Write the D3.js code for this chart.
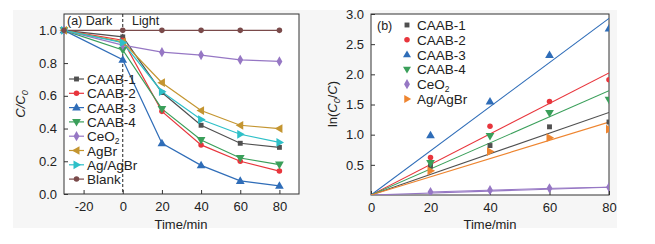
<!DOCTYPE html>
<html>
<head>
<meta charset="utf-8">
<script src="https://cdn.jsdelivr.net/npm/d3@7"></script>
<style>
  body { margin: 0; background: #fff; }
  text { font-family: "Liberation Sans", Arial, sans-serif; fill: #222; }
</style>
</head>
<body>
<div id="chart"></div>
<script>
// data: panel (a) C/C0 vs time
var timesA = [-30, 0, 20, 40, 60, 80];
var namesA = ["CAAB-1", "CAAB-2", "CAAB-3", "CAAB-4", "CeO2", "AgBr", "Ag/AgBr", "Blank"];
var caab1 = [1.0, 0.96, 0.62, 0.42, 0.31, 0.285];
var caab2 = [1.0, 0.94, 0.505, 0.30, 0.20, 0.14];
var caab3 = [1.0, 0.82, 0.31, 0.175, 0.08, 0.05];
var caab4 = [1.0, 0.88, 0.52, 0.33, 0.22, 0.18];
var ceo2 = [1.0, 0.91, 0.867, 0.849, 0.82, 0.81];
var agbr = [1.0, 0.93, 0.68, 0.51, 0.42, 0.40];
var agagbr = [1.0, 0.925, 0.625, 0.455, 0.365, 0.315];
var blank = [1.0, 1.0, 1.0, 1.0, 1.0, 1.0];
var seriesA = [caab1, caab2, caab3, caab4, ceo2, agbr, agagbr, blank];

// data: panel (b) ln(C0/C) vs time
var timesB = [20, 40, 60, 80];
var namesB = ["CAAB-1", "CAAB-2", "CAAB-3", "CAAB-4", "CeO2", "Ag/AgBr"];
var lnCaab1 = [0.48, 0.82, 1.13, 1.21];
var lnCaab2 = [0.62, 1.14, 1.55, 1.91];
var lnCaab3 = [0.99, 1.55, 2.32, 2.76];
var lnCaab4 = [0.53, 0.98, 1.36, 1.58];
var lnCeo2 = [0.05, 0.08, 0.11, 0.13];
var lnAgagbr = [0.40, 0.72, 0.95, 1.09];
var seriesB = [lnCaab1, lnCaab2, lnCaab3, lnCaab4, lnCeo2, lnAgagbr];
// fitted rate constants k (ln(C0/C) = k t)
var slopesB = [0.0171, 0.0253, 0.0366, 0.0216, 0.0016, 0.0151];

var ticksAx = [-20, 0, 20, 40, 60, 80];
var ticksAy = [0, 0.2, 0.4, 0.6, 0.8, 1.0];
var ticksBx = [0, 20, 40, 60, 80];
var ticksBy = [0.5, 1.0, 1.5, 2.0, 2.5, 3.0];

var colorsA = ["#505050", "#e8353c", "#2f6db8", "#3a9f5a", "#9677c4", "#c49530", "#2ec0c8", "#7a4a4a"];
var colorsB = ["#505050", "#e8353c", "#2f6db8", "#3a9f5a", "#9677c4", "#ee8530"];
var shapesA = [d3.symbolSquare, d3.symbolCircle, "up", "down", d3.symbolDiamond, "left", "right", d3.symbolCircle];
var shapesB = [d3.symbolSquare, d3.symbolCircle, "up", "down", d3.symbolDiamond, "right"];

var svg = d3.select("#chart").append("svg")
    .attr("width", 655)
    .attr("height", 244);

// light grey figure background
svg.append("rect")
    .attr("x", 13).attr("y", 10)
    .attr("width", 604).attr("height", 218)
    .attr("fill", "#f6f6f6");

function marker(shape, size) {
    var s = size;
    if (shape === "up") return "M0," + (-s) + "L" + (s * 0.95) + "," + (s * 0.65) + "L" + (-s * 0.95) + "," + (s * 0.65) + "Z";
    if (shape === "down") return "M0," + s + "L" + (s * 0.95) + "," + (-s * 0.65) + "L" + (-s * 0.95) + "," + (-s * 0.65) + "Z";
    if (shape === "left") return "M" + (-s) + ",0L" + (s * 0.65) + "," + (-s * 0.95) + "L" + (s * 0.65) + "," + (s * 0.95) + "Z";
    if (shape === "right") return "M" + s + ",0L" + (-s * 0.65) + "," + (-s * 0.95) + "L" + (-s * 0.65) + "," + (s * 0.95) + "Z";
    return d3.symbol().type(shape).size(shape === d3.symbolDiamond ? 30 : 24)();
}

function frame(g, x, y, w, h, xt, yt, yfmt) {
    g.append("rect").attr("width", w).attr("height", h).attr("fill", "#fff");
    // inward ticks
    g.append("g").attr("transform", "translate(0," + h + ")")
        .call(d3.axisBottom(x).tickValues(xt).tickSize(-4).tickPadding(8).tickFormat(function (d) { return String(d); }))
        .call(a => a.select(".domain").remove())
        .selectAll("text").attr("font-size", 13);
    g.append("g")
        .call(d3.axisLeft(y).tickValues(yt).tickSize(-4).tickPadding(7).tickFormat(yfmt))
        .call(a => a.select(".domain").remove())
        .selectAll("text").attr("font-size", 13);
    g.selectAll(".tick line").attr("stroke", "#333");
    g.selectAll(".tick text").style("fill", "#222").attr("font-family", "Liberation Sans, Arial, sans-serif");
    g.append("rect").attr("width", w).attr("height", h)
        .attr("fill", "none").attr("stroke", "#333").attr("stroke-width", 1);
}

function subLabel(t, d) {
    if (d === "CeO2") {
        t.append("tspan").text("CeO");
        t.append("tspan").attr("font-size", 8.5).attr("dy", 2.5).text("2");
    } else t.text(d);
}

// ---------- panel (a)
var ga = svg.append("g").attr("transform", "translate(64,14)");
var wA = 235, hA = 180;
var xA = d3.scaleLinear().domain([-30, 90]).range([0, wA]);
var yA = d3.scaleLinear().domain([0, 1.1]).range([hA, 0]);
frame(ga, xA, yA, wA, hA, ticksAx, ticksAy, d3.format(".1f"));

ga.append("line")
    .attr("x1", xA(0)).attr("x2", xA(0))
    .attr("y1", 0).attr("y2", hA)
    .attr("stroke", "#222").attr("stroke-dasharray", "3,2");

var lineA = d3.line()
    .x(function (d, i) { return xA(timesA[i]); })
    .y(function (d) { return yA(d); });

seriesA.forEach(function (s, k) {
    ga.append("path").datum(s)
        .attr("d", lineA)
        .attr("fill", "none")
        .attr("stroke", colorsA[k])
        .attr("stroke-width", 1.2);
});
seriesA.forEach(function (s, k) {
    ga.selectAll(null).data(s).enter().append("path")
        .attr("transform", function (d, i) { return "translate(" + xA(timesA[i]) + "," + yA(d) + ")"; })
        .attr("d", marker(shapesA[k], 4.6))
        .attr("fill", colorsA[k]);
});

ga.append("text").attr("x", 3).attr("y", 11).attr("font-size", 12.5).text("(a) Dark");
ga.append("text").attr("x", 68).attr("y", 11).attr("font-size", 12.5).text("Light");

// legend (a)
var legA = ga.selectAll(".legA").data(namesA).enter().append("g")
    .attr("transform", function (d, i) { return "translate(5," + (65 + i * 14.3) + ")"; });
legA.append("line").attr("x1", 0).attr("x2", 15)
    .attr("stroke", function (d, i) { return colorsA[i]; }).attr("stroke-width", 1.2);
legA.append("path").attr("transform", "translate(7.5,0)")
    .attr("d", function (d, i) { return marker(shapesA[i], 4.6); })
    .attr("fill", function (d, i) { return colorsA[i]; });
legA.append("text").attr("x", 18).attr("y", 5).attr("font-size", 13.5)
    .each(function (d) { subLabel(d3.select(this), d); });

// axis titles (a)
svg.append("text").attr("x", 181).attr("y", 229).attr("text-anchor", "middle")
    .attr("font-size", 13).text("Time/min");
var ylA = svg.append("text").attr("transform", "translate(25,104) rotate(-90)")
    .attr("text-anchor", "middle").attr("font-size", 13).attr("font-style", "italic");
ylA.append("tspan").text("C/C");
ylA.append("tspan").attr("font-size", 9).attr("dy", 3).text("0");

// ---------- panel (b)
var gb = svg.append("g").attr("transform", "translate(371,14)");
var wB = 238, hB = 181;
var xB = d3.scaleLinear().domain([0, 80]).range([0, wB]);
var yB = d3.scaleLinear().domain([0, 3]).range([hB, 0]);
frame(gb, xB, yB, wB, hB, ticksBx, ticksBy, d3.format(".1f"));

svg.append("clipPath").attr("id", "clipB")
    .append("rect").attr("width", wB).attr("height", hB);
var plotB = gb.append("g").attr("clip-path", "url(#clipB)");

slopesB.forEach(function (k, j) {
    var pts = [0, 80];
    plotB.append("path").datum(pts)
        .attr("d", d3.line().x(function (t) { return xB(t); }).y(function (t) { return yB(k * t); }))
        .attr("fill", "none")
        .attr("stroke", colorsB[j])
        .attr("stroke-width", 1.1);
});
seriesB.forEach(function (s, k) {
    plotB.selectAll(null).data(s).enter().append("path")
        .attr("transform", function (d, i) { return "translate(" + xB(timesB[i]) + "," + yB(d) + ")"; })
        .attr("d", marker(shapesB[k], 4.6))
        .attr("fill", colorsB[k]);
});
// CeO2 connected by a line
plotB.append("path").datum(lnCeo2)
    .attr("d", d3.line().x(function (d, i) { return xB(timesB[i]); }).y(function (d) { return yB(d); }))
    .attr("fill", "none").attr("stroke", colorsB[4]).attr("stroke-width", 1);

gb.append("text").attr("x", 6).attr("y", 16).attr("font-size", 12.5).text("(b)");

var legB = gb.selectAll(".legB").data(namesB).enter().append("g")
    .attr("transform", function (d, i) { return "translate(36," + (11 + i * 14.8) + ")"; });
legB.append("path")
    .attr("d", function (d, i) { return marker(shapesB[i], 4.2); })
    .attr("fill", function (d, i) { return colorsB[i]; });
legB.append("text").attr("x", 10).attr("y", 5).attr("font-size", 13.5)
    .each(function (d) { subLabel(d3.select(this), d); });

svg.append("text").attr("x", 490).attr("y", 229).attr("text-anchor", "middle")
    .attr("font-size", 13).text("Time/min");
var ylB = svg.append("text").attr("transform", "translate(337,104) rotate(-90)")
    .attr("text-anchor", "middle").attr("font-size", 13);
ylB.append("tspan").text("ln(");
ylB.append("tspan").attr("font-style", "italic").text("C");
ylB.append("tspan").attr("font-size", 9).attr("dy", 3).attr("font-style", "italic").text("0");
ylB.append("tspan").attr("dy", -3).text("/");
ylB.append("tspan").attr("font-style", "italic").text("C");
ylB.append("tspan").text(")");
</script>
</body>
</html>
